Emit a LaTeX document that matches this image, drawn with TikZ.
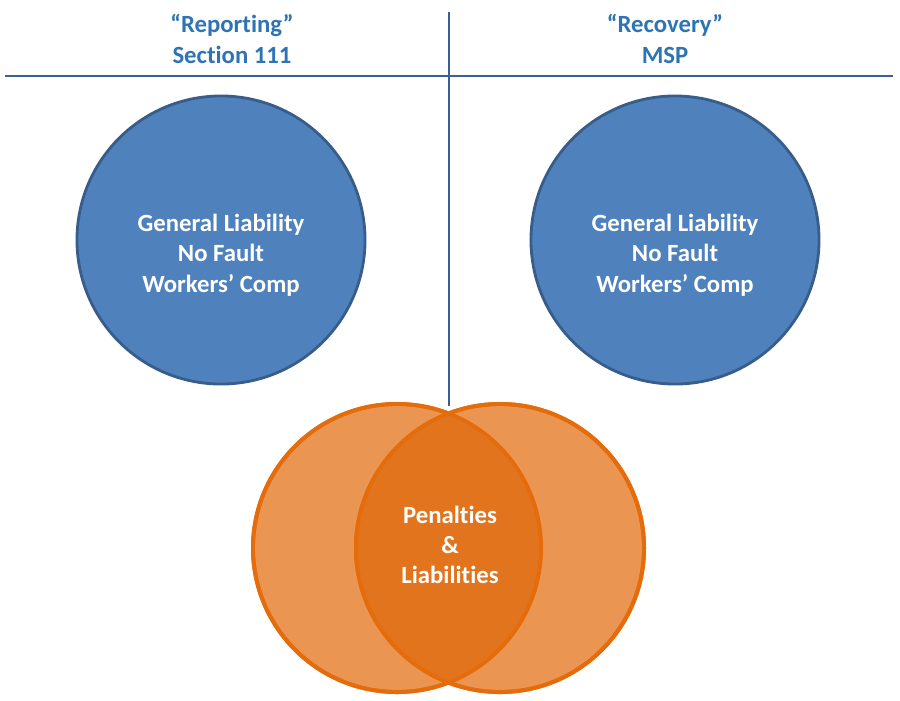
\documentclass[tikz,border=0pt]{standalone}
\usepackage{fontspec}
\setmainfont{Carlito}[Ligatures=NoCommon]
\definecolor{HeadBlue}{RGB}{46,116,181}
\definecolor{RuleBlue}{RGB}{58,95,147}
\definecolor{CircBlue}{RGB}{79,129,189}
\definecolor{CircEdge}{RGB}{56,93,138}
\definecolor{VennLight}{RGB}{235,149,82}
\definecolor{VennDark}{RGB}{226,116,29}
\definecolor{VennEdge}{RGB}{228,108,10}
\usetikzlibrary{positioning}

\begin{document}
\begin{tikzpicture}[x=0.025cm, y=-0.025cm,
	font=\fontsize{17.6}{21.6}\selectfont\bfseries,
	headtext/.style={align=center, text=HeadBlue},
	divider/.style={draw=RuleBlue, line width=2pt},
	bluecircle/.style={circle, draw=CircEdge, line width=2pt, fill=CircBlue,
		minimum size=7.2cm, inner sep=0pt},
	circtext/.style={align=center, text=white},
	venncircle/.style={circle, draw=VennEdge, line width=2.8pt,
		minimum size=7.2cm, inner sep=0pt}]
	\useasboundingbox (0,0) rectangle (900,700);

	% header rule and divider
	\coordinate (ruleL) at (5,76);
	\coordinate (ruleR) at (893,76);
	\coordinate (divT) at (449,12);
	\coordinate (divB) at (449,406);
	\draw[divider] (ruleL) -- (ruleR);
	\draw[divider] (divT) -- (divB);

	% column heads
	\node[headtext] (rep) at (232,39) {``Reporting''\\Section 111};
	\node[headtext] (rec) at (665,39) {``Recovery''\\MSP};

	% coverage circles
	\foreach \nm/\cx in {glL/221, glR/675}{
		\node[bluecircle] (\nm) at (\cx,240) {};
		\node[circtext] (\nm txt) at ([yshift=-0.38cm]\nm.center) {General Liability\\No Fault\\Workers’ Comp};
	}

	% overlap of the two sides
	\node[venncircle, fill=VennLight] (vL) at (397,548) {};
	\node[venncircle, fill=VennLight] (vR) at (500,548) {};
	\begin{scope}
		\clip (vL.center) circle (3.6cm);
		\fill[VennDark] (vR.center) circle (3.6cm);
	\end{scope}
	\draw[VennEdge, line width=2.8pt] (vL.center) circle (3.6cm);
	\draw[VennEdge, line width=2.8pt] (vR.center) circle (3.6cm);
	\node[circtext] (pen) at (450,545) {Penalties\\\&\\Liabilities};
\end{tikzpicture}
\end{document}
